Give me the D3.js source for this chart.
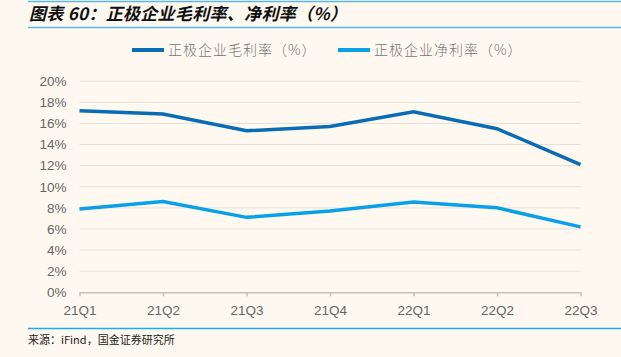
<!DOCTYPE html>
<html><head><meta charset="utf-8">
<script src="https://cdn.jsdelivr.net/npm/d3@7"></script>
<style>
html,body{margin:0;padding:0;background:#FDF9F0;}
svg{display:block;}
</style></head>
<body>
<svg id="c" width="621" height="357"></svg>
<script>
const categories = ["21Q1","21Q2","21Q3","21Q4","22Q1","22Q2","22Q3"];
const grossMargin = [17.2, 16.9, 15.3, 15.7, 17.1, 15.5, 12.1];
const netMargin = [7.9, 8.6, 7.1, 7.7, 8.55, 8.0, 6.2];
const yTicks = [0,2,4,6,8,10,12,14,16,18,20];
const seriesNames = ["正极企业毛利率（%）","正极企业净利率（%）"];
const seriesColors = ["#0A6CB6","#0AA0E8"];
const titleText = "图表 60：正极企业毛利率、净利率（%）";
const sourceText = "来源：iFind，国金证券研究所";

const svg = d3.select("#c");
svg.append("rect").attr("width",621).attr("height",357).attr("fill","#FDF9F0");

// header rules
svg.append("line").attr("x1",28).attr("x2",621).attr("y1",1.5).attr("y2",1.5).attr("stroke","#5BB8E5").attr("stroke-width",1.5);
svg.append("line").attr("x1",28).attr("x2",621).attr("y1",27.5).attr("y2",27.5).attr("stroke","#5BB8E5").attr("stroke-width",1.5);
svg.append("text").attr("x",29).attr("y",20).text(titleText)
  .attr("font-family","'Noto Sans CJK SC', sans-serif").attr("font-weight","bold").attr("font-style","italic")
  .attr("font-size",17).attr("letter-spacing",0.3).attr("fill","#111");

const x = d3.scalePoint().domain(categories).range([79.5,580.5]);
const y = d3.scaleLinear().domain([0,20]).range([292.3,81.2]);

// grid
svg.append("g").selectAll("line").data(yTicks.filter(d=>d>0)).join("line")
  .attr("x1",79.5).attr("x2",580.5).attr("y1",d=>y(d)).attr("y2",d=>y(d))
  .attr("stroke","#E6E1D8").attr("stroke-width",1);

// y axis labels
const yAxis = svg.append("g").attr("transform","translate(79.5,0)")
  .call(d3.axisLeft(y).tickValues(yTicks).tickFormat(d=>d+"%").tickSize(0).tickPadding(13));
yAxis.select(".domain").remove();
yAxis.selectAll("text").attr("font-family","'Liberation Sans', Arial, sans-serif").attr("font-size",13.5).attr("fill","#666");

// x axis
const xAxis = svg.append("g").attr("transform","translate(0,"+y(0)+")")
  .call(d3.axisBottom(x).tickSize(4).tickPadding(9).tickSizeOuter(0));
xAxis.select(".domain").attr("stroke","#C9BFB2").attr("stroke-width",1.5);
xAxis.selectAll(".tick line").attr("stroke","#C9BFB2").attr("stroke-width",1.5);
xAxis.selectAll("text").attr("font-family","'Liberation Sans', Arial, sans-serif").attr("font-size",13.5).attr("fill","#666");

// lines
const line = d3.line().x((d,i)=>x(categories[i])).y(d=>y(d));
[grossMargin, netMargin].forEach((s,i)=>{
  svg.append("path").datum(s).attr("d",line).attr("fill","none")
    .attr("stroke",seriesColors[i]).attr("stroke-width",3.5).attr("stroke-linejoin","miter");
});

// legend
const legX = [132, 338];
seriesNames.forEach((n,i)=>{
  svg.append("line").attr("x1",legX[i]).attr("x2",legX[i]+32).attr("y1",50).attr("y2",50)
    .attr("stroke",seriesColors[i]).attr("stroke-width",4);
  svg.append("text").attr("x",legX[i]+36).attr("y",55).text(n)
    .attr("font-family","'Noto Sans CJK SC', sans-serif").attr("font-size",14).attr("font-weight",300)
    .attr("letter-spacing",1).attr("fill","#777");
});

// footer
svg.append("line").attr("x1",28).attr("x2",621).attr("y1",328.5).attr("y2",328.5).attr("stroke","#1AAEE8").attr("stroke-width",1.5);
svg.append("text").attr("x",28).attr("y",344).text(sourceText)
  .attr("font-family","'Noto Sans CJK SC', sans-serif").attr("font-size",11).attr("fill","#222");
</script>
</body></html>
